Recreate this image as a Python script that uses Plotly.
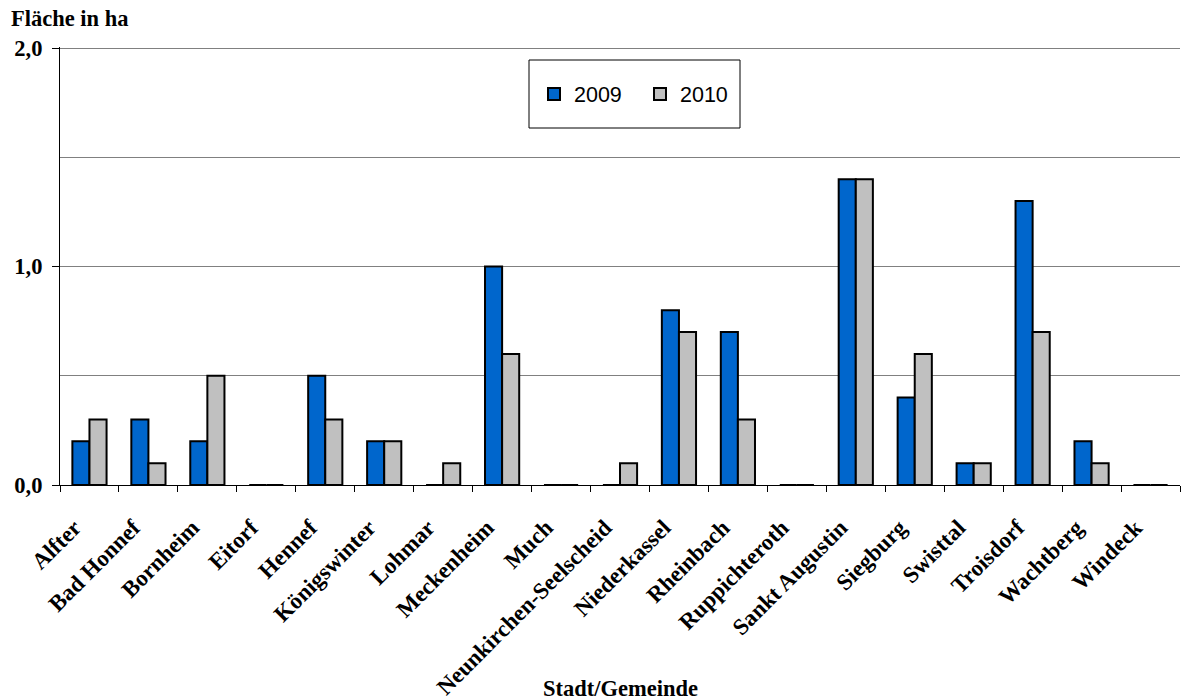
import plotly.graph_objects as go

categories = ["Alfter", "Bad Honnef", "Bornheim", "Eitorf", "Hennef", "Königswinter",
              "Lohmar", "Meckenheim", "Much", "Neunkirchen-Seelscheid", "Niederkassel",
              "Rheinbach", "Ruppichteroth", "Sankt Augustin", "Siegburg", "Swisttal",
              "Troisdorf", "Wachtberg", "Windeck"]
values_2009 = [0.2, 0.3, 0.2, 0.0, 0.5, 0.2, 0.0, 1.0, 0.0, 0.0, 0.8, 0.7, 0.0, 1.4, 0.4, 0.1, 1.3, 0.2, 0.0]
values_2010 = [0.3, 0.1, 0.5, 0.0, 0.3, 0.2, 0.1, 0.6, 0.0, 0.1, 0.7, 0.3, 0.0, 1.4, 0.6, 0.1, 0.7, 0.1, 0.0]
y_tickvals = [0, 1, 2]
y_ticktext = ["0,0", "1,0", "2,0"]

serif = "Liberation Serif, Times New Roman, serif"
sans = "Liberation Sans, Arial, sans-serif"

fig = go.Figure()
fig.add_trace(go.Bar(x=categories, y=values_2009, name="2009",
                     marker=dict(color="#0066CC", line=dict(color="black", width=2))))
fig.add_trace(go.Bar(x=categories, y=values_2010, name="2010",
                     marker=dict(color="#C0C0C0", line=dict(color="black", width=2))))

W, H = 1181, 700
L, R, T, B = 60, 1, 47, 215
pw = W - L - R
ph = H - T - B

def px2x(p):
    return (p - L) / pw

def py2y(p):
    return (H - B - p) / ph

fig.update_layout(
    width=W, height=H,
    margin=dict(l=L, r=R, t=T, b=B, autoexpand=False),
    paper_bgcolor="white", plot_bgcolor="white",
    barmode="group", bargap=0.42, bargroupgap=0,
    showlegend=True,
    legend=dict(orientation="h", x=px2x(534), y=py2y(94), xanchor="left", yanchor="middle",
                bgcolor="rgba(0,0,0,0)", borderwidth=0,
                font=dict(family=sans, size=21.5, color="black"),
                entrywidth=61, entrywidthmode="pixels"),
    font=dict(family=serif, color="black"),
    xaxis=dict(
        type="category", tickson="boundaries", ticks="outside", ticklen=6, tickcolor="black",
        tickwidth=1, showline=True, linecolor="black", linewidth=1.2,
        tickangle=-45, tickfont=dict(family=serif, size=23, color="black", weight="bold"),
        ticklabelstandoff=19, ticklabelshift=-15,
        showgrid=False, range=[-0.5, len(categories) - 0.5],
    ),
    yaxis=dict(
        range=[0, 2.005], tickvals=y_tickvals, ticktext=y_ticktext, ticks="outside", ticklen=7,
        tickcolor="black", showline=True, linecolor="black", linewidth=1.2,
        tickfont=dict(family=serif, size=22.5, color="black", weight="bold"),
        ticklabelstandoff=5,
        showgrid=True, gridcolor="#808080", gridwidth=1,
        minor=dict(dtick=0.5, tick0=0, showgrid=True, gridcolor="#808080", gridwidth=1, ticks=""),
        zeroline=False,
    ),
    shapes=[dict(type="rect", xref="paper", yref="paper",
                 x0=px2x(529), x1=px2x(740), y0=py2y(128), y1=py2y(60),
                 line=dict(color="black", width=1), fillcolor="white", layer="below")],
    annotations=[
        dict(text="<b>Fläche in ha</b>", xref="paper", yref="paper", x=px2x(9), y=py2y(18),
             xanchor="left", yanchor="middle", showarrow=False,
             font=dict(family=serif, size=22.5, color="black")),
        dict(text="<b>Stadt/Gemeinde</b>", xref="paper", yref="paper", x=px2x(620), y=py2y(688),
             xanchor="center", yanchor="middle", showarrow=False,
             font=dict(family=serif, size=22.5, color="black")),
    ],
)

fig.write_html("out.html")
